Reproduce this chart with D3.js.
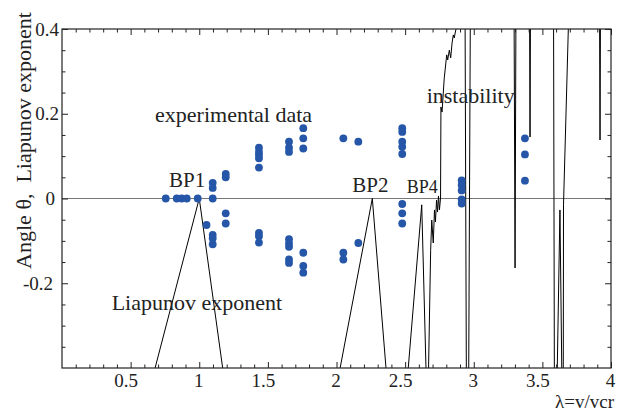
<!DOCTYPE html>
<html>
<head>
<meta charset="utf-8">
<script src="https://cdn.jsdelivr.net/npm/d3@7"></script>
<style>
  html, body { margin: 0; padding: 0; background: #fff; }
  svg { display: block; }
  text { font-family: "Liberation Serif", "Times New Roman", serif; fill: #222; }
</style>
</head>
<body>
<svg id="chart" width="618" height="411"></svg>
<script>
// ---- data ----
const xMajorTicks = [0.5, 1, 1.5, 2, 2.5, 3, 3.5, 4];
const yMajorTicks = [-0.2, 0, 0.2, 0.4];

// Liapunov exponent curve (values beyond +/-0.4 are clipped by the frame)
const curveLambda = [
  0.638, 1.0, 1.192,
  1.997, 2.261, 2.373,
  2.510, 2.621, 2.656,
  2.668, 2.686, 2.694, 2.705, 2.714, 2.721, 2.729, 2.736, 2.743, 2.750, 2.758,
  2.761, 2.769, 2.785, 2.803, 2.810, 2.822, 2.832, 2.842, 2.851, 2.858, 2.869, 2.887, 2.900,
  2.936, 2.947, 2.962, 2.976,
  3.293, 3.301, 3.308,
  3.406, 3.410, 3.414,
  3.581, 3.588, 3.606, 3.628, 3.643, 3.652, 3.654, 3.689, 3.695,
  3.916, 3.920, 3.924,
  4.0
];
const curveExponent = [
  -0.45, 0.0, -0.45,
  -0.45, 0.0, -0.45,
  -0.45, -0.015, -0.45,
  -0.45, -0.122, -0.051, -0.105, -0.027, -0.055, -0.004, -0.032, 0.006, -0.027, 0.001,
  0.216, 0.204, 0.284, 0.339, 0.327, 0.350, 0.332, 0.367, 0.386, 0.379, 0.398, 0.407, 0.45,
  0.5, -0.5, -0.5, 0.5,
  0.5, -0.164, 0.5,
  0.5, 0.145, 0.5,
  0.5, -0.5, -0.45, -0.027, -0.45, -0.45, -0.015, 0.4, 0.45,
  0.5, 0.138, 0.5,
  0.5
];

// experimental data: lambda of each measured column and the angles measured there
const expLambda = [0.756, 0.836, 0.872, 0.909, 0.989, 1.053, 1.098, 1.193, 1.435, 1.654, 1.758, 2.050, 2.159, 2.479, 2.912, 3.373];
const expAngles = [
  [0], [0], [0], [0], [0],
  [-0.0625],
  [0.037, 0.025, 0, -0.086, -0.094, -0.108],
  [0.058, 0.050, -0.035, -0.059],
  [0.120, 0.110, 0.103, 0.095, 0.073, -0.081, -0.089, -0.104],
  [0.134, 0.120, 0.110, -0.096, -0.106, -0.114, -0.144, -0.152],
  [0.166, 0.142, 0.118, -0.128, -0.159, -0.175],
  [0.142, -0.128, -0.144],
  [0.134, -0.105],
  [0.166, 0.157, 0.134, 0.122, 0.105, -0.013, -0.035, -0.059],
  [0.043, 0.032, 0.019, -0.002, -0.012],
  [0.142, 0.104, 0.042]
];

// annotations: [text, lambda, value, fontSize]
const annotations = [
  ["experimental data", 0.678, 0.181, 22],
  ["BP1", 0.780, 0.026, 21],
  ["BP2", 2.115, 0.016, 21],
  ["BP4", 2.511, 0.014, 18],
  ["instability", 2.657, 0.225, 22],
  ["Liapunov exponent", 0.362, -0.263, 22]
];

// ---- chart ----
const svg = d3.select("#chart");
const W = 618, H = 411;
const m = { l: 62, r: 7, t: 29, b: 43 };
const x = d3.scaleLinear().domain([0, 4]).range([m.l, W - m.r]);
const y = d3.scaleLinear().domain([-0.4, 0.4]).range([H - m.b, m.t]);

svg.append("rect").attr("width", W).attr("height", H).attr("fill", "#fff");

svg.append("clipPath").attr("id", "plotclip")
  .append("rect")
  .attr("x", m.l).attr("y", m.t)
  .attr("width", W - m.l - m.r).attr("height", H - m.t - m.b);

// zero line
svg.append("line")
  .attr("x1", x(0)).attr("x2", x(4))
  .attr("y1", y(0)).attr("y2", y(0))
  .attr("stroke", "#777").attr("stroke-width", 1.1);

// curve
const pts = curveLambda.map((l, i) => [l, curveExponent[i]]);
svg.append("path")
  .datum(pts)
  .attr("clip-path", "url(#plotclip)")
  .attr("fill", "none")
  .attr("stroke", "#000")
  .attr("stroke-width", 1)
  .attr("d", d3.line().x(d => x(d[0])).y(d => y(d[1])));

// dots
const dots = [];
expLambda.forEach((l, i) => expAngles[i].forEach(a => dots.push([l, a])));
svg.append("g").selectAll("circle").data(dots).join("circle")
  .attr("cx", d => x(d[0])).attr("cy", d => y(d[1]))
  .attr("r", 3.9)
  .attr("fill", "#2556a8");

// axes / ticks
const xMinor = d3.range(1, 40).map(i => i / 10).filter(v => !xMajorTicks.some(t => Math.abs(t - v) < 1e-9));
const yMinor = d3.range(-7, 8).map(i => i * 0.05).filter(v => !yMajorTicks.concat([-0.4]).some(t => Math.abs(t - v) < 1e-9));

function styleAxis(g) {
  g.select(".domain").remove();
  g.selectAll(".tick line").attr("stroke", "#222");
}

// bottom
svg.append("g").attr("transform", `translate(0,${y(-0.4)})`)
  .call(d3.axisBottom(x).tickValues(xMajorTicks).tickSizeInner(-6).tickSizeOuter(0).tickPadding(6)
    .tickFormat(d => String(d)))
  .call(styleAxis)
  .call(g => g.selectAll(".tick text")
    .attr("font-size", 19)
    .attr("font-family", "Liberation Serif, serif")
    .attr("fill", "#222")
    .attr("dx", d => Number.isInteger(d) ? -1 : -5));
svg.append("g").attr("transform", `translate(0,${y(-0.4)})`)
  .call(d3.axisBottom(x).tickValues(xMinor).tickSizeInner(-3.5).tickSizeOuter(0).tickFormat(""))
  .call(styleAxis);
// top
svg.append("g").attr("transform", `translate(0,${y(0.4)})`)
  .call(d3.axisTop(x).tickValues(xMajorTicks).tickSizeInner(-6).tickSizeOuter(0).tickFormat(""))
  .call(styleAxis);
svg.append("g").attr("transform", `translate(0,${y(0.4)})`)
  .call(d3.axisTop(x).tickValues(xMinor).tickSizeInner(-3.5).tickSizeOuter(0).tickFormat(""))
  .call(styleAxis);
// left
svg.append("g").attr("transform", `translate(${x(0)},0)`)
  .call(d3.axisLeft(y).tickValues(yMajorTicks).tickSizeInner(-6).tickSizeOuter(0).tickPadding(3)
    .tickFormat(d => String(d)))
  .call(styleAxis)
  .call(g => g.selectAll(".tick text")
    .attr("font-size", 19)
    .attr("font-family", "Liberation Serif, serif")
    .attr("fill", "#222")
    .attr("dx", d => d > 0 ? 0 : (d === 0 ? -4 : -6)));
svg.append("g").attr("transform", `translate(${x(0)},0)`)
  .call(d3.axisLeft(y).tickValues(yMinor).tickSizeInner(-3.5).tickSizeOuter(0).tickFormat(""))
  .call(styleAxis);
// right
svg.append("g").attr("transform", `translate(${x(4)},0)`)
  .call(d3.axisRight(y).tickValues(yMajorTicks).tickSizeInner(-6).tickSizeOuter(0).tickFormat(""))
  .call(styleAxis);
svg.append("g").attr("transform", `translate(${x(4)},0)`)
  .call(d3.axisRight(y).tickValues(yMinor).tickSizeInner(-3.5).tickSizeOuter(0).tickFormat(""))
  .call(styleAxis);

// frame
svg.append("rect")
  .attr("x", x(0)).attr("y", y(0.4))
  .attr("width", x(4) - x(0)).attr("height", y(-0.4) - y(0.4))
  .attr("fill", "none").attr("stroke", "#222").attr("stroke-width", 1.2);

// annotations
svg.append("g").selectAll("text").data(annotations).join("text")
  .attr("x", d => x(d[1])).attr("y", d => y(d[2]))
  .attr("font-size", d => d[3])
  .text(d => d[0]);

// axis titles
svg.append("text")
  .attr("transform", `translate(31,${(10 + 271) / 2}) rotate(-90)`)
  .attr("text-anchor", "middle")
  .attr("font-size", 22)
  .style("white-space", "pre")
  .text("Angle θ,  Liapunov exponent");

svg.append("text")
  .attr("x", 614).attr("y", 408)
  .attr("text-anchor", "end")
  .attr("font-size", 19)
  .text("λ=v/vcr");
</script>
</body>
</html>
